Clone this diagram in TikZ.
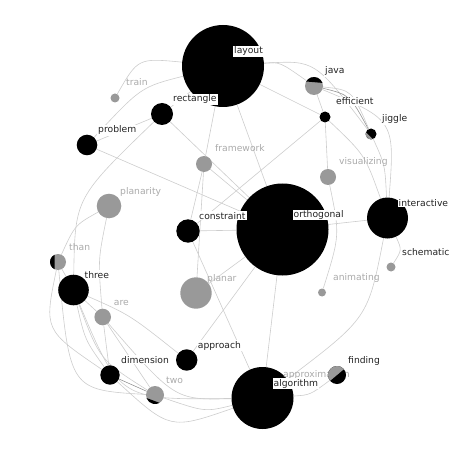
\documentclass[tikz,border=0pt]{standalone}
\usepackage{fontspec}
\setmainfont{DejaVu Sans}
\usetikzlibrary{backgrounds}
\definecolor{nodegray}{RGB}{153,153,153}
\definecolor{edgegray}{RGB}{205,205,205}
\definecolor{edgedark}{RGB}{150,150,150}
\definecolor{labgray}{RGB}{170,170,170}
\definecolor{labdark}{RGB}{35,35,35}
\begin{document}
\begin{tikzpicture}[x=1pt,y=-1pt,
  blk/.style={circle,fill=black,draw=none,inner sep=0pt,minimum size=#1pt},
  gry/.style={circle,fill=nodegray,draw=none,inner sep=0pt,minimum size=#1pt},
  lbd/.style={anchor=base west,font=\fontsize{9.2}{10}\selectfont,text=labdark,fill=white,inner xsep=1pt,inner ysep=1pt},
  lbg/.style={anchor=base west,font=\fontsize{9.2}{10}\selectfont,text=labgray,inner sep=0pt},
  edge/.style={draw=edgegray,line width=0.6pt},
  edged/.style={draw=edgedark,line width=0.6pt}]
\useasboundingbox (0,0) rectangle (450,470);

% nodes
\node[blk=82]   (layout)      at (223,66)    {};
\node[gry=18]   (java)        at (314,86)    {};
\node[blk=11]   (efficient)   at (325,117)   {};
\node[blk=11]   (jiggle)      at (371,134)   {};
\node[gry=9]    (train)       at (115,98)    {};
\node[blk=22]   (rectangle)   at (162,114)   {};
\node[blk=20.6] (problem)     at (87,145)    {};
\node[gry=16]   (framework)   at (204,164)   {};
\node[gry=16]   (visualizing) at (328,177)   {};
\node[gry=24.6] (planarity)   at (109,206)   {};
\node[blk=23.4] (constraint)  at (188,231)   {};
\node[blk=92]   (orthogonal)  at (282.5,229.5) {};
\node[blk=41]   (interactive) at (387.5,218) {};
\node[gry=9]    (schematic)   at (391,267)   {};
\node[gry=8]    (animating)   at (322,292.5) {};
\node[gry=16]   (than)        at (58,262)    {};
\node[blk=30.6] (three)       at (73.5,290)  {};
\node[gry=31.4] (planar)      at (196,293)   {};
\node[gry=16.6] (are)         at (102.7,317) {};
\node[blk=21.4] (approach)    at (186.7,360) {};
\node[blk=19.4] (dimension)   at (110,375)   {};
\node[gry=18]   (two)         at (155,395)   {};
\node[blk=62]   (algorithm)   at (262.5,398) {};

% partial overlaps
\fill[black] (java.center) ++(20:9pt) arc[start angle=20,end angle=150,radius=9pt] -- cycle;
\fill[nodegray] (jiggle.center) ++(160:5.5pt) arc[start angle=160,end angle=290,radius=5.5pt] -- cycle;
\fill[black] (than.center) ++(115:8pt) arc[start angle=115,end angle=245,radius=8pt] -- cycle;
\fill[black] (two.center) ++(200:9pt) arc[start angle=200,end angle=300,radius=9pt] -- cycle;

% edges
\begin{pgfonlayer}{background}
\draw[edge] (layout) -- (rectangle);
\draw[edge] (rectangle) -- (problem);
\draw[edge] (rectangle) -- (orthogonal);
\draw[edge] (problem) -- (orthogonal);
\draw[edge] (layout) -- (framework);
\draw[edge] (framework) -- (constraint);
\draw[edge] (framework) -- (planar);
\draw[edge] (framework) -- (orthogonal);
\draw[edge] (layout) -- (orthogonal);
\draw[edge] (efficient) -- (constraint);
\draw[edge] (layout) -- (efficient);
\draw[edge] (java) -- (efficient);
\draw[edge] (efficient) -- (visualizing);
\draw[edge] (constraint) -- (orthogonal);
\draw[edge] (orthogonal) -- (interactive);
\draw[edge] (orthogonal) -- (algorithm);
\draw[edge] (constraint) -- (algorithm);
\draw[edge] (orthogonal) -- (planar);
\draw[edge] (orthogonal) -- (approach);
\draw[edge] (three) .. controls (130,315) .. (approach);
\draw[edged] (dimension) -- (two);
\draw[edge] (are) -- (two);
\draw[edge] (are) -- (dimension);
\draw[edge] (three) -- (are);
\draw[edge] (than) -- (three);
% curved
\draw[edge] (layout) .. controls (138,58) .. (train);
\draw[edge] (layout) .. controls (141,87) .. (problem);
\draw[edge] (rectangle) .. controls (75,198) .. (three);
\draw[edge] (layout) .. controls (315,60) .. (jiggle);
\draw[edge] (layout) .. controls (280,62) .. (java);
\draw[edged] (java) .. controls (350,95) .. (jiggle);
\draw[edge] (java) .. controls (352,90) .. (jiggle);
\draw[edge] (java) .. controls (395,120) .. (interactive);
\draw[edge] (jiggle) .. controls (385,165) .. (interactive);
\draw[edge] (efficient) .. controls (365,155) .. (interactive);
\draw[edge] (visualizing) .. controls (340,235) .. (animating);
\draw[edge] (interactive) .. controls (402,250) .. (schematic);
\draw[edge] (interactive) .. controls (368,318) .. (algorithm);
\draw[edge] (planarity) .. controls (75,225) .. (than);
\draw[edge] (planarity) .. controls (98,260) .. (are);
\draw[edge] (than) .. controls (44,330) .. (dimension);
\draw[edge] (three) .. controls (120,400) .. (algorithm);
\draw[edge] (are) .. controls (175,400) .. (algorithm);
\draw[edge] (three) .. controls (100,360) .. (two);
\draw[edge] (three) .. controls (85,340) .. (dimension);
\draw[edge] (dimension) .. controls (170,430) .. (algorithm);
\draw[edge] (two) .. controls (205,412) .. (algorithm);
\draw[edge] (than) .. controls (70,390) .. (two);
\end{pgfonlayer}

% labels
\node[lbd] (layoutL)      at (233,54)    {layout};
\node[lbd] (javaL)        at (324,74)    {java};
\node[lbd] (efficientL)   at (335,105)   {efficient};
\node[lbd] (jiggleL)      at (381,122)   {jiggle};
\node[lbg] (trainL)       at (126,86)    {train};
\node[lbd] (rectangleL)   at (172,102)   {rectangle};
\node[lbd] (problemL)     at (97,133)    {problem};
\node[lbg] (frameworkL)   at (215,152)   {framework};
\node[lbg] (visualizingL) at (339,165)   {visualizing};
\node[lbg] (planarityL)   at (120,194)   {planarity};
\node[lbd] (constraintL)  at (198,219)   {constraint};
\node[lbd] (orthogonalL)  at (292.5,217.5) {orthogonal};
\node[lbd] (interactiveL) at (397.5,206) {interactive};
\node[lbd] (schematicL)   at (401,255)   {schematic};
\node[lbg] (animatingL)   at (333,280.5) {animating};
\node[lbg] (thanL)        at (69,250)    {than};
\node[lbd] (threeL)       at (83.5,278)  {three};
\node[lbg] (planarL)      at (207,281)   {planar};
\node[lbg] (areL)         at (113.7,305) {are};
\node[lbd] (approachL)    at (196.7,348) {approach};
\node[lbd] (dimensionL)   at (120,363)   {dimension};
\node[lbg] (twoL)         at (166,383)   {two};
\node[lbg] (approximationL) at (283,377) {approximation};
\node[lbd] (algorithmL)   at (272.5,386) {algorithm};

% finding on top
\node[blk=18] (finding) at (337,375) {};
\fill[nodegray] (finding.center) ++(40:9pt) arc[start angle=40,end angle=220,radius=9pt] -- cycle;
\node[lbd] (findingL) at (347,363) {finding};
\begin{pgfonlayer}{background}
\draw[edge] (finding) .. controls (310,395) .. (algorithm);
\end{pgfonlayer}
\end{tikzpicture}
\end{document}
